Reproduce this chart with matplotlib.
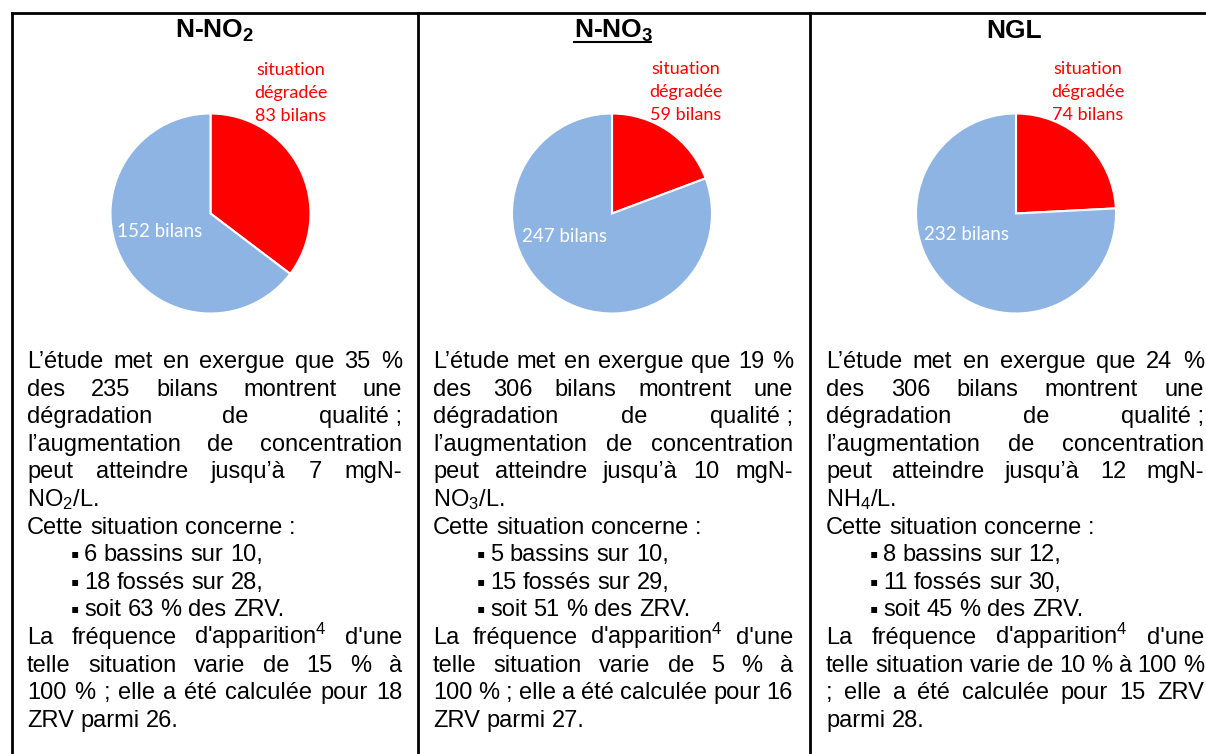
import matplotlib
matplotlib.use('Agg')
from matplotlib import pyplot as plt
from matplotlib import rc

# police proche d'Arial pour le texte, sous-/exposants via mathtext
rc('font', family=['Liberation Sans', 'DejaVu Sans'])
rc('mathtext', fontset='custom', rm='Liberation Sans', default='regular')

titres = [r'N-NO$_2$', r'N-NO$_3$', 'NGL']
titre_souligne = [False, True, False]
degrades = [83, 59, 74]
non_degrades = [152, 247, 232]

# J = justifié, G = à gauche, P = puce
texte_no2 = [
    ('J', 'L’étude met en exergue que 35 %'),
    ('J', 'des 235 bilans montrent une'),
    ('J', 'dégradation de qualité\u00a0;'),
    ('J', 'l’augmentation de concentration'),
    ('J', 'peut atteindre jusqu’à 7 mgN-'),
    ('G', r'NO$_2$/L.'),
    ('G', 'Cette situation concerne :'),
    ('P', '6 bassins sur 10,'),
    ('P', '18 fossés sur 28,'),
    ('P', 'soit 63 % des ZRV.'),
    ('J', r"La fréquence d'apparition$^4$ d'une"),
    ('J', 'telle situation varie de 15 % à'),
    ('J', '100 % ; elle a été calculée pour 18'),
    ('G', 'ZRV parmi 26.'),
]
texte_no3 = [
    ('J', 'L’étude met en exergue que 19 %'),
    ('J', 'des 306 bilans montrent une'),
    ('J', 'dégradation de qualité\u00a0;'),
    ('J', 'l’augmentation de concentration'),
    ('J', 'peut atteindre jusqu’à 10 mgN-'),
    ('G', r'NO$_3$/L.'),
    ('G', 'Cette situation concerne :'),
    ('P', '5 bassins sur 10,'),
    ('P', '15 fossés sur 29,'),
    ('P', 'soit 51 % des ZRV.'),
    ('J', r"La fréquence d'apparition$^4$ d'une"),
    ('J', 'telle situation varie de 5 % à'),
    ('J', '100 % ; elle a été calculée pour 16'),
    ('G', 'ZRV parmi 27.'),
]
texte_ngl = [
    ('J', 'L’étude met en exergue que 24 %'),
    ('J', 'des 306 bilans montrent une'),
    ('J', 'dégradation de qualité\u00a0;'),
    ('J', 'l’augmentation de concentration'),
    ('J', 'peut atteindre jusqu’à 12 mgN-'),
    ('G', r'NH$_4$/L.'),
    ('G', 'Cette situation concerne :'),
    ('P', '8 bassins sur 12,'),
    ('P', '11 fossés sur 30,'),
    ('P', 'soit 45 % des ZRV.'),
    ('J', r"La fréquence d'apparition$^4$ d'une"),
    ('J', 'telle situation varie de 10 % à 100 %'),
    ('J', '; elle a été calculée pour 15 ZRV'),
    ('G', 'parmi 28.'),
]
textes = [texte_no2, texte_no3, texte_ngl]

# mise en page (pixels)
W, H = 1206, 754
bords = [12, 418, 810]
centres = [(210.5, 213.5), (612, 213.5), (1016, 213.5)]
R = 101
marges = [(27, 402), (433, 793), (826, 1204)]
decal_rouge = [80.5, 74, 72]
decal_blanc = [(-51, 237), (-48, 242), (-49, 240)]
ROUGE = '#FF0000'
BLEU = '#8EB4E3'
TAILLE = 17
INTERLIGNE = 27.6
POLICE_ETIQ = 'Lato'

fig = plt.figure(figsize=(W / 100, H / 100), dpi=100)
fond = fig.add_axes([0, 0, 1, 1])
fond.set_xlim(0, W)
fond.set_ylim(H, 0)
fond.axis('off')
fond.patch.set_visible(False)
fond.set_zorder(3)
rendu = fig.canvas.get_renderer()

# cadre du tableau
fond.plot([bords[0], W], [13, 13], color='black', lw=2, solid_capstyle='projecting')
for x in bords:
    fond.plot([x, x], [13, H], color='black', lw=2)


def largeur(obj):
    return obj.get_window_extent(rendu).width


t = fond.text(0, 0, 'a a', fontsize=TAILLE)
t2 = fond.text(0, 0, 'aa', fontsize=TAILLE)
ESPACE = largeur(t) - largeur(t2)
t.remove()
t2.remove()


def ecrire_ligne(x0, x1, y, ligne, justifie):
    mots = ligne.split(' ')
    objets = [fond.text(x0, y, m, fontsize=TAILLE, va='baseline') for m in mots]
    largeurs = [largeur(o) for o in objets]
    if justifie and len(mots) > 1:
        ecart = (x1 - x0 - sum(largeurs)) / (len(mots) - 1)
    else:
        ecart = ESPACE
    x = x0
    for o, w in zip(objets, largeurs):
        o.set_x(x)
        x += w + ecart


for i in range(3):
    cx, cy = centres[i]
    gauche = bords[i]
    droite = bords[i + 1] if i < 2 else 1218
    milieu = (gauche + droite) / 2

    # titre
    tt = fond.text(milieu, 38, titres[i], fontsize=19, fontweight='bold',
                   ha='center', va='baseline')
    if titre_souligne[i]:
        bb = tt.get_window_extent(rendu)
        fond.plot([bb.x0, bb.x1 - 3], [42, 42], color='black', lw=1.5)

    # camembert
    ax = fig.add_axes([(cx - R) / W, 1 - (cy + R) / H, 2 * R / W, 2 * R / H])
    ax.pie([degrades[i], non_degrades[i]], colors=[ROUGE, BLEU], startangle=90,
           counterclock=False, wedgeprops=dict(edgecolor='white', linewidth=1.5))
    ax.set_xlim(-1.01, 1.01)
    ax.set_ylim(-1.01, 1.01)

    # étiquettes
    lignes_rouges = ['situation', 'dégradée', f'{degrades[i]} bilans']
    for k, txt in enumerate(lignes_rouges):
        fond.text(cx + decal_rouge[i], 75 + 23 * k - (1 if i else 0), txt, color=ROUGE,
                  fontsize=13, family=POLICE_ETIQ, ha='center', va='baseline')
    fond.text(cx + decal_blanc[i][0], decal_blanc[i][1], f'{non_degrades[i]} bilans',
              color='white', fontsize=13.5, family=POLICE_ETIQ, ha='center', va='baseline')

    # texte
    x0, x1 = marges[i]
    y = 368
    for mode, ligne in textes[i]:
        if mode == 'P':
            fond.text(x0 + 44, y, '▪', fontsize=TAILLE, va='baseline')
            ecrire_ligne(x0 + 57, x1, y, ligne, False)
        else:
            ecrire_ligne(x0, x1, y, ligne, mode == 'J')
        y += INTERLIGNE

fig.savefig('out.png', dpi=100)
